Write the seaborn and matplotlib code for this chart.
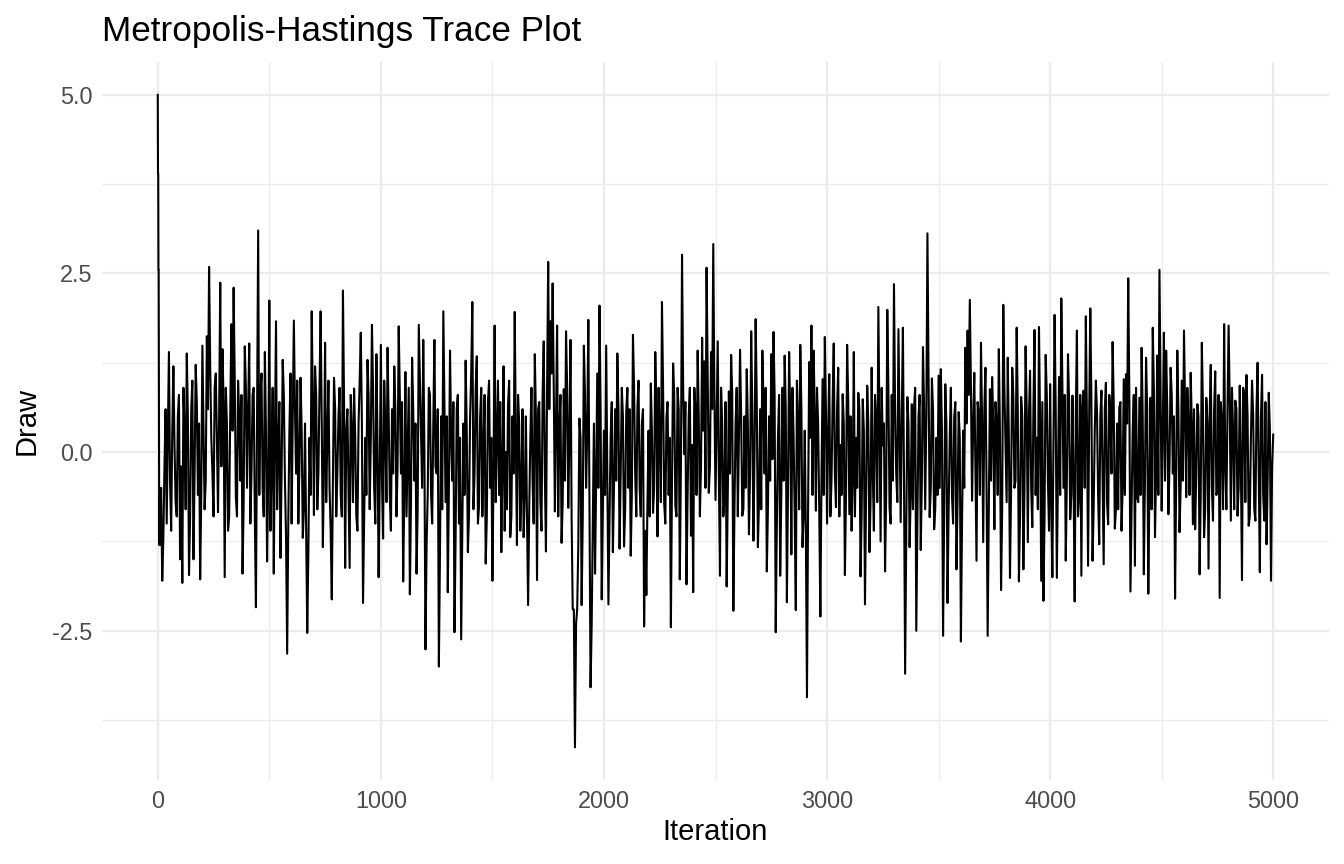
import numpy as np
import pandas as pd
import seaborn as sns
import matplotlib.pyplot as plt
from matplotlib.ticker import MultipleLocator, FormatStrFormatter

# first few iterations (burn-in from the start value 5)
burn_iter = [0, 1, 2, 3, 4, 6, 7, 8, 9]
burn_draw = [5.0, 3.9, 3.9, 2.55, 2.55, -0.4, -1.3, -1.3, -0.6]

# draws at iterations 10, 20, ..., 5000
draw_0k = [
    -1.3, -1.8, -0.2, -1.0, 1.4, -1.1, 1.2, -0.7, 0.5, -1.5,
    -1.83, 0.3, 1.38, -1.72, 0.6, -1.5, 1.22, -0.6, -1.78, 1.49,
    -0.8, 1.62, 2.59, 0.2, -0.9, 1.1, -0.84, 2.37, 1.44, -1.75,
    0.4, -0.9, 1.79, 2.3, -0.62, 1.0, -0.4, -1.7, 1.48, -0.5,
    1.52, -0.3, 0.9, -2.17, 3.1, 0.8, -0.5, 1.4, -1.53, 2.12,
    -0.2, -1.7, 1.83, 0.1, -1.48, 1.29, -0.4, -2.82, 0.3, -1.0,
    1.84, -0.3, -1.0, 1.04, -1.2, 0.4, -2.53, 0.2, 1.97, -0.88,
    0.8, -0.3, 1.97, -1.33, 1.53, 0.2, -0.5, -2.06, 1.04, -0.9,
    0.5, -0.6, 2.26, -1.62, 0.6, -1.62, 0.3, 0.89, -0.9, 0.4,
    1.67, -2.11, 0.2, 1.29, -0.8, 1.78, -0.5, 1.37, -1.75, 1.5,
]
draw_1k = [
    -1.21, 0.3, 1.46, -0.6, 0.6, 1.2, -0.9, 1.76, -0.3, -1.81,
    1.12, 0.0, -1.99, 1.32, -0.4, -1.7, 1.78, 0.2, 1.57, -2.76,
    -0.6, 0.8, -1.0, 1.57, -0.3, -3.0, 0.5, 1.97, -0.7, -1.96,
    1.42, -0.4, -2.52, 0.6, -1.0, -2.62, 0.4, 1.28, -1.4, 0.5,
    2.1, -0.3, 1.34, -0.76, 0.9, 0.1, -1.56, 0.7, -0.5, -1.8,
    1.77, 0.2, -0.6, -1.4, 1.2, 0.0, 0.66, -1.19, 0.5, 1.96,
    -1.3, 0.4, -0.5, -1.19, 0.5, -2.14, 0.2, -0.4, 1.37, -1.79,
    0.7, -1.1, 1.55, -1.39, 2.66, 1.83, 2.36, -0.83, 1.77, 0.3,
    -1.27, 0.88, 1.69, -0.78, 1.57, -2.2, -4.13, -2.2, 0.47, -2.14,
    1.49, -0.5, 1.85, -3.29, -1.0, -1.7, 1.1, 2.05, -2.06, 0.3,
]
draw_2k = [
    1.49, -2.13, 0.22, -1.4, 0.6, 1.38, -1.35, 0.9, -1.32, 0.58,
    -0.5, -1.45, 1.64, -0.3, 0.62, -0.5, 0.4, -2.44, -2.0, 0.3,
    0.96, -0.85, 1.4, -1.18, 0.2, 2.1, -0.72, 0.47, -0.6, -2.45,
    1.24, -0.75, 0.9, -1.78, 2.76, -0.03, -1.85, 0.5, -1.17, -1.96,
    0.6, 1.42, -0.9, 1.6, 1.27, 2.58, -0.57, 1.4, 2.91, -0.67,
    1.55, -1.73, 0.4, -0.67, -1.88, 0.85, 1.36, -2.22, 0.4, -0.9,
    1.43, -0.89, 0.5, 1.16, -1.15, 1.69, -1.24, 1.86, -1.33, 0.6,
    1.42, -0.3, -1.67, 0.5, 1.37, 1.68, -2.52, 0.2, -1.73, 0.9,
    1.35, -2.1, 1.4, -1.43, 0.23, -2.21, 0.4, 1.5, -1.33, 0.3,
    -3.43, 1.26, 1.77, 1.42, -0.82, 0.4, -2.3, 1.02, 1.61, -1.0,
]
draw_3k = [
    1.09, -0.4, 1.52, -0.77, 1.18, 0.1, 0.81, -1.72, 1.5, -0.87,
    -1.1, 1.4, 0.2, 0.83, -1.74, 0.74, -2.13, 0.93, -1.4, 1.18,
    -1.1, 0.42, 2.03, -1.25, 0.09, -1.67, 1.99, -0.77, 0.8, 2.35,
    -0.3, 1.72, -0.98, 1.74, -3.1, 0.77, -1.33, 0.67, 0.62, -2.5,
    0.5, -1.37, 1.47, -0.8, 3.06, -0.91, 1.03, -1.08, 0.2, 1.07,
    1.16, -2.57, 0.95, -2.11, 0.2, -0.6, 0.49, -1.64, 0.56, -2.65,
    0.3, 1.46, 1.7, 2.13, -0.68, 1.11, -1.52, 0.53, 1.53, -1.26,
    1.18, -2.57, 0.88, 1.05, -1.08, 0.4, 1.44, -1.93, 2.06, 0.1,
    1.32, -1.76, 1.18, -0.5, 1.74, -1.81, 0.77, -1.64, 1.48, -1.26,
    1.14, -1.05, 1.71, 0.2, 1.75, -1.8, -2.08, 1.36, -0.4, 0.95,
]
draw_4k = [
    -1.75, 1.92, -1.76, 1.05, 2.15, -0.5, -1.52, 1.37, -0.94, 0.79,
    -2.09, 1.7, -0.6, -1.73, 0.86, 1.9, -1.59, 2.01, -1.52, 0.3,
    0.58, -1.29, 0.86, -1.57, 0.97, -1.01, 0.56, 1.54, -1.07, 0.4,
    0.62, -1.1, 1.02, 1.09, 2.43, -1.95, 0.3, -1.59, -0.63, 0.76,
    1.46, -1.71, 1.32, -1.98, 0.76, 1.74, -1.19, 1.35, 2.55, -0.82,
    1.67, 1.42, -0.87, 1.18, -0.3, -2.05, 1.42, -1.12, 1.0, 1.7,
    -0.63, 0.4, 1.11, -1.01, -1.08, 0.67, -1.71, 1.53, -1.19, 0.76,
    -1.63, 1.22, -0.96, 1.13, -0.54, -2.04, 0.42, 1.79, -0.8, 1.77,
    -0.96, 0.3, 0.72, -0.89, 0.93, -1.79, 0.83, 1.08, -1.03, 0.2,
    0.53, -0.96, 1.25, -1.68, 1.08, -0.96, -1.29, 0.83, -1.8, 0.25,
]

# draws in between, at iterations 5, 15, ..., 4995
mid_0k = [
    0.7, -0.5, -1.2, 0.6, 0.2, -0.4, 0.3, 0.1, -0.9, 0.8,
    -0.2, 0.9, -0.8, 0.5, -0.9, 1.0, -0.3, 0.7, 0.4, -0.6,
    0.3, -0.4, 0.6, 1.2, -0.3, 0.9, 0.2, 0.5, -0.2, 0.7,
    0.9, -1.1, 0.6, 0.3, 1.0, -0.9, 0.5, 0.8, -0.7, 0.9,
    0.6, -1.0, 0.8, -0.9, 0.4, -0.6, 1.1, -0.9, 0.3, -0.4,
    -1.1, 0.9, 0.2, -0.8, 0.7, -0.3, 0.8, -1.2, -1.0, 1.1,
    0.5, 0.6, 1.0, -0.2, 0.3, -0.8, -1.0, -1.4, -0.6, 0.7,
    1.2, -0.8, 0.9, 0.4, -0.2, -0.7, 1.0, -1.1, -0.4, 0.6,
    -0.3, 0.9, -0.9, 0.7, 0.3, -0.5, 0.8, -0.7, 0.2, -1.1,
    1.0, 0.4, -0.9, -0.6, 0.8, 0.2, 0.9, -1.0, 0.1, -0.3,
]
mid_1k = [
    -0.4, 1.0, -0.7, 0.5, -1.1, -0.3, 0.6, -0.2, 0.8, 0.7,
    -0.6, -0.9, 0.9, -0.7, 0.6, 0.4, -0.8, 1.0, -0.5, 0.1,
    -1.3, 0.9, -0.6, 0.4, -0.2, 0.6, -1.4, -0.8, 0.6, 0.5,
    -0.5, 0.2, 0.7, -1.2, 0.8, 0.2, -1.1, -0.6, 0.3, -0.9,
    1.1, -0.8, 0.9, -1.0, 0.5, -0.9, 0.8, -0.9, 1.0, 0.2,
    -0.3, -0.7, 1.0, 0.7, -0.2, -1.1, -0.8, 1.0, -0.9, -0.3,
    0.2, 0.8, -1.1, 0.6, -0.6, -0.9, -0.8, 0.9, -1.0, 0.5,
    0.6, -0.7, 0.8, -0.3, 0.9, 0.6, 1.1, 0.9, 0.4, -0.9,
    0.8, -0.7, -0.4, 0.9, 0.2, -0.9, -2.2, -2.4, -1.3, 0.2,
    -0.9, 0.8, 0.3, -0.8, -2.4, 0.4, -0.4, -0.5, 0.6, -0.8,
]
mid_2k = [
    -0.6, -0.3, -0.9, 0.7, -0.5, -0.4, 0.6, -0.3, 0.5, -0.8,
    0.9, 0.6, -0.6, 0.9, -0.9, 1.0, -0.9, 0.6, -1.1, -0.7,
    -0.9, 0.3, -0.5, 0.6, 0.9, -0.7, 0.9, -1.0, 0.7, 0.2,
    -0.4, 0.8, -0.9, 0.6, -0.2, 0.9, 0.7, -0.6, 0.9, 0.1,
    0.9, -0.6, 0.5, -0.2, 0.3, -0.5, 1.1, -0.2, 0.6, 0.8,
    0.4, -0.3, 0.9, -0.9, 0.7, -0.6, -0.3, 0.8, -0.8, 0.9,
    0.2, 0.5, -0.8, -0.5, 0.4, -0.3, 0.6, 0.0, 0.7, -0.7,
    -0.8, 0.7, 0.9, -0.8, -0.4, -0.1, 0.8, -1.0, 0.8, -0.6,
    -0.4, 0.6, -0.5, 0.5, 0.9, -0.9, 1.0, -0.8, 0.6, -0.9,
    -1.1, -0.8, 0.2, -0.6, 0.5, 0.9, -0.8, -0.4, -0.6, 0.6,
]
mid_3k = [
    0.3, -0.9, 0.7, -0.3, 0.6, -0.9, -0.6, 0.4, -0.6, 0.7,
    0.5, -0.4, -0.9, -0.5, 0.6, -0.9, 0.3, -0.6, 0.4, -0.7,
    -0.3, 0.8, -0.7, 0.4, 0.9, 0.4, -0.6, 0.9, -1.0, -0.4,
    0.6, -0.7, 0.4, 0.5, -0.4, -1.2, 0.4, -0.6, -0.8, 0.9,
    -1.0, 0.8, -0.4, 0.6, 0.5, 1.1, -0.5, 0.6, -0.8, -0.6,
    -0.5, 0.3, -0.9, 0.4, -0.8, 0.9, -1.0, 0.7, -0.7, 0.2,
    -1.0, -0.5, 0.4, 0.8, 0.9, 0.4, -0.2, 0.7, -0.6, 0.4,
    0.6, -0.5, -0.8, -0.4, 0.4, 0.7, -0.6, 0.3, -0.8, 0.9,
    -0.7, 0.2, -0.5, 0.8, -0.4, 0.6, -0.9, 0.5, -0.5, 0.6,
    0.5, -0.5, 0.6, -0.6, -0.8, 0.4, 0.7, -0.9, 0.8, -1.1,
]
mid_4k = [
    -0.7, 0.2, 0.6, -0.3, -0.6, 0.9, 0.8, -0.4, 0.7, -0.6,
    -0.4, 0.5, -0.9, 0.8, 0.6, -0.5, 0.4, 0.5, 0.7, -0.8,
    1.0, -0.6, 0.5, -0.4, 0.6, -0.7, 0.8, -0.3, 0.7, -0.8,
    -0.8, 0.7, -0.5, -0.6, 0.4, 0.8, -0.8, 0.8, 0.9, -0.7,
    -0.6, 0.5, -0.4, 0.6, -0.5, -0.8, 0.9, -0.3, -0.6, 0.8,
    0.3, -0.4, 0.6, -0.2, 0.8, 0.5, -0.4, 0.6, -0.5, -0.4,
    0.6, 0.9, -0.6, 0.4, 0.6, -0.3, 0.5, -0.6, 0.6, -0.8,
    0.4, 0.5, -0.5, 0.6, -0.6, 0.8, 0.7, -0.8, -0.2, 0.6,
    0.7, 0.9, -0.8, 0.6, -0.5, -0.2, 0.9, -0.7, 0.5, -0.9,
    1.0, -0.8, 0.6, -0.3, 0.5, -0.6, 0.7, -0.4, 0.3, -0.2,
]

x_ticks = [0, 1000, 2000, 3000, 4000, 5000]
y_ticks = [-2.5, 0.0, 2.5, 5.0]

draws = (burn_draw + draw_0k + draw_1k + draw_2k + draw_3k + draw_4k
         + mid_0k + mid_1k + mid_2k + mid_3k + mid_4k)
iters = burn_iter + list(range(10, 5001, 10)) + list(range(5, 5000, 10))
df = pd.DataFrame({"Iteration": iters, "Draw": draws}).sort_values("Iteration")

sns.set_theme(style="whitegrid")
plt.rcParams['font.family'] = ['Liberation Sans', 'DejaVu Sans']
plt.rcParams['axes.unicode_minus'] = False

fig = plt.figure(figsize=(13.44, 8.64), dpi=100)
ax = fig.add_axes([102/1344, 1 - 780/864, (1329 - 102)/1344, (780 - 62)/864])
ax.set_facecolor("white")

sns.lineplot(data=df, x="Iteration", y="Draw", color="black", linewidth=1.5, ax=ax)

# ggplot-like 5% expansion
ax.set_xlim(-250, 5250)
lo, hi = min(draws), max(draws)
pad = 0.05 * (hi - lo)
ax.set_ylim(lo - pad, hi + pad)

ax.set_xticks(x_ticks)
ax.set_yticks(y_ticks)
ax.yaxis.set_major_formatter(FormatStrFormatter('%.1f'))
ax.xaxis.set_minor_locator(MultipleLocator(500))
ax.yaxis.set_minor_locator(MultipleLocator(1.25))
ax.grid(which='major', color='#EBEBEB', linewidth=1.6)
ax.grid(which='minor', color='#EBEBEB', linewidth=0.9)
ax.set_axisbelow(True)
for s in ax.spines.values():
    s.set_visible(False)
ax.tick_params(which='both', length=0, labelsize=16.9, colors='#4D4D4D', pad=7)

ax.set_title("Metropolis-Hastings Trace Plot", loc='left', fontsize=25.3, color='black', pad=15)
ax.set_xlabel("Iteration", fontsize=21, color='black', labelpad=4)
ax.set_ylabel("Draw", fontsize=21, color='black', labelpad=8)

fig.savefig("out.png", dpi=100)
